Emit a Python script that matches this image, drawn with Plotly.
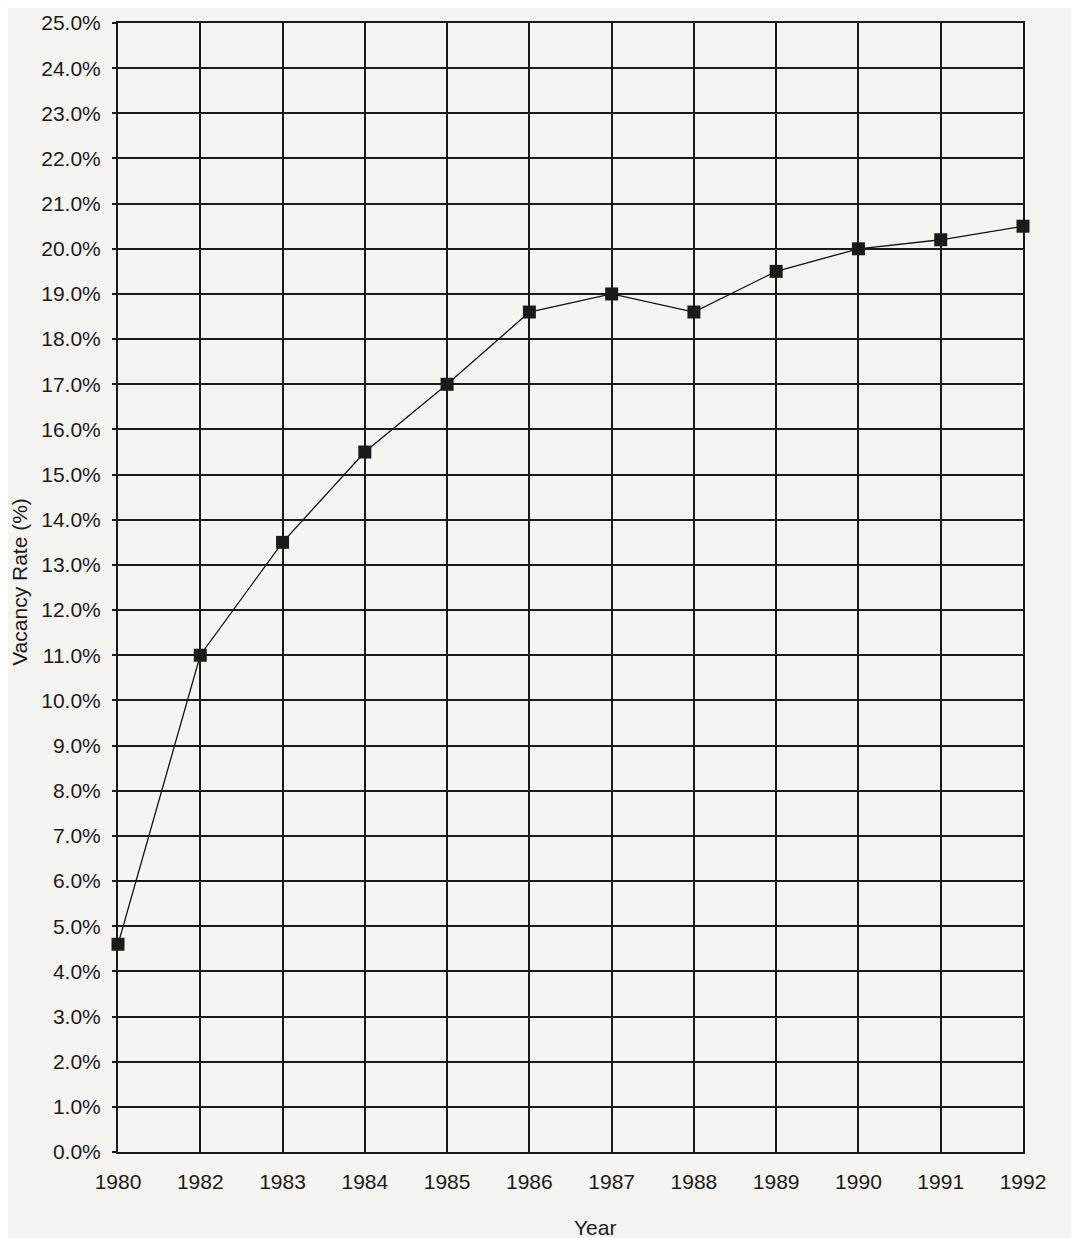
import plotly.graph_objects as go

years = ["1980", "1982", "1983", "1984", "1985", "1986", "1987", "1988", "1989", "1990", "1991", "1992"]
vacancy_rate = [4.6, 11.0, 13.5, 15.5, 17.0, 18.6, 19.0, 18.6, 19.5, 20.0, 20.2, 20.5]
y_ticks = [i for i in range(0, 26)]
y_tick_labels = [f"{v:.1f}%" for v in y_ticks]

font_family = "Arial, Liberation Sans, Helvetica, sans-serif"

fig = go.Figure()
fig.add_trace(go.Scatter(
    x=years, y=vacancy_rate,
    mode="lines+markers",
    line=dict(color="#111111", width=1.3),
    marker=dict(symbol="square", size=13, color="#1a1a1a"),
    cliponaxis=False,
    showlegend=False,
))

fig.update_layout(
    width=1079, height=1238,
    margin=dict(l=110, r=64, t=15, b=94),
    paper_bgcolor="#f4f4f1",
    plot_bgcolor="#f4f4f1",
    font=dict(family=font_family, size=21, color="#1a1a1a"),
    xaxis=dict(
        type="category",
        range=[0, len(years) - 1],
        automargin=False,
        showgrid=True, gridcolor="#1a1a1a", gridwidth=1.8,
        showline=True, linecolor="#1a1a1a", linewidth=2, mirror=True,
        ticks="", tickfont=dict(size=21),
        ticklabelstandoff=10,
        ticklabeloverflow="allow",
        zeroline=False,
    ),
    yaxis=dict(
        range=[0, 25],
        automargin=False,
        tickvals=y_ticks, ticktext=y_tick_labels,
        showgrid=True, gridcolor="#1a1a1a", gridwidth=1.8,
        showline=True, linecolor="#1a1a1a", linewidth=2, mirror=True,
        ticks="outside", ticklen=4, tickcolor="#1a1a1a", tickwidth=1.5,
        tickfont=dict(size=21),
        ticklabelstandoff=7,
        ticklabeloverflow="allow",
        zeroline=False,
    ),
    annotations=[
        dict(text="Year", xref="paper", yref="paper", x=0.527, y=0,
             xanchor="center", yanchor="middle", yshift=-75,
             showarrow=False, font=dict(size=21)),
        dict(text="Vacancy Rate (%)", xref="paper", yref="paper", x=0, y=0.505,
             xanchor="center", yanchor="middle", xshift=-98, textangle=-90,
             showarrow=False, font=dict(size=21)),
    ],
)

fig.write_html("out.html")
